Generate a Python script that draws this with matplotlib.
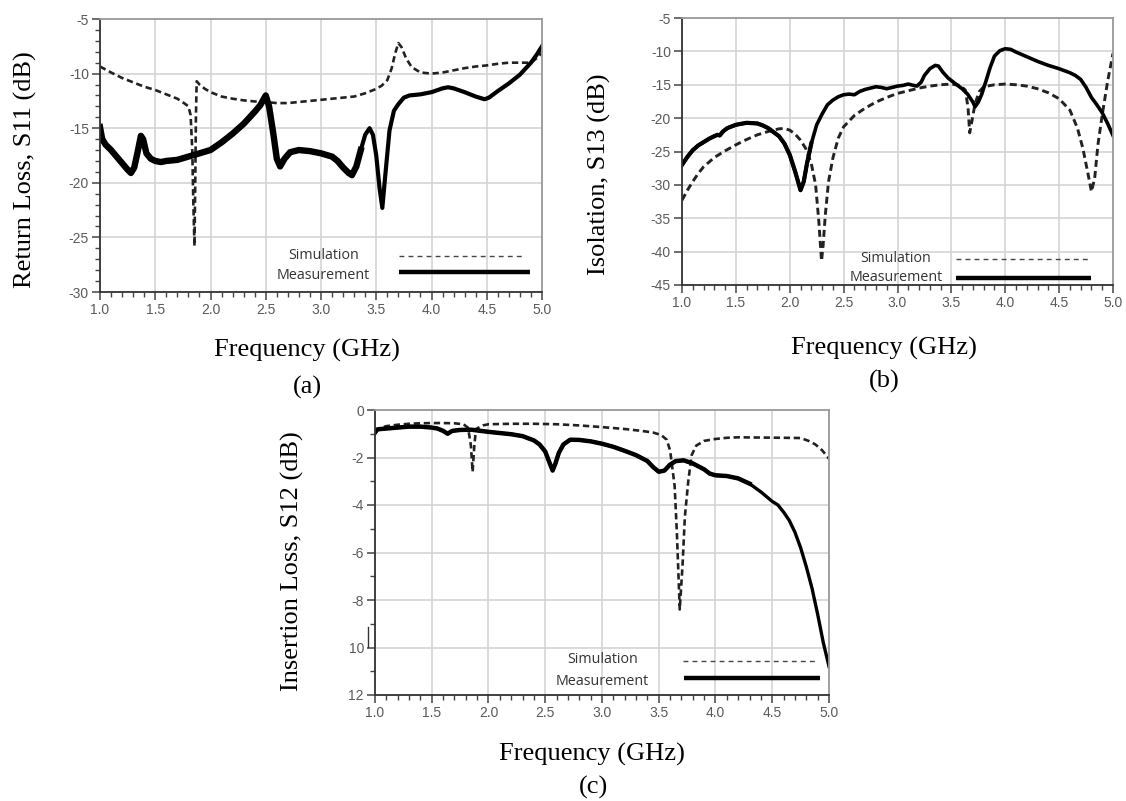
import matplotlib
matplotlib.use('Agg')
import matplotlib.pyplot as plt
from matplotlib.ticker import MultipleLocator, FixedLocator
from matplotlib.lines import Line2D

# ---------------- data ----------------
x_ticks = [1.0, 1.5, 2.0, 2.5, 3.0, 3.5, 4.0, 4.5, 5.0]
x_tick_labels = ['1.0', '1.5', '2.0', '2.5', '3.0', '3.5', '4.0', '4.5', '5.0']

# (a) Return loss S11
a_sim_f = [1.0, 1.1, 1.2, 1.3, 1.4, 1.5, 1.6, 1.7, 1.76, 1.8, 1.82, 1.835, 1.845, 1.855,
           1.862, 1.868, 1.875, 1.9, 1.95, 2.0, 2.1, 2.2, 2.3, 2.4, 2.5, 2.6, 2.7, 2.8, 2.9,
           3.0, 3.1, 3.2, 3.3, 3.4, 3.5, 3.55, 3.6, 3.64, 3.67, 3.7, 3.73, 3.77, 3.82, 3.9,
           4.0, 4.1, 4.2, 4.3, 4.4, 4.5, 4.6, 4.7, 4.8, 4.9, 4.95, 5.0]
a_sim_v = [-9.35, -9.9, -10.4, -10.8, -11.2, -11.5, -11.9, -12.3, -12.7, -13.0, -13.8, -17.0,
           -22.0, -25.8, -20.0, -14.0, -10.7, -11.0, -11.4, -11.7, -12.1, -12.3, -12.45, -12.55,
           -12.6, -12.7, -12.7, -12.6, -12.5, -12.4, -12.3, -12.2, -12.1, -11.8, -11.4, -11.1,
           -10.6, -9.5, -8.2, -7.2, -7.6, -8.6, -9.4, -9.9, -10.0, -9.9, -9.7, -9.5, -9.35,
           -9.25, -9.1, -9.0, -9.0, -9.0, -8.6, -8.1]
a_meas_f = [1.0, 1.02, 1.05, 1.1, 1.15, 1.2, 1.25, 1.28, 1.31, 1.34, 1.37, 1.39, 1.42, 1.46,
            1.5, 1.55, 1.6, 1.7, 1.8, 1.9, 2.0, 2.1, 2.2, 2.3, 2.4, 2.45, 2.5, 2.53, 2.57, 2.6,
            2.63, 2.67, 2.72, 2.8, 2.9, 3.0, 3.1, 3.15, 3.2, 3.25, 3.28, 3.32, 3.36, 3.4, 3.44,
            3.47, 3.5, 3.53, 3.555, 3.58, 3.62, 3.66, 3.7, 3.75, 3.8, 3.9, 4.0, 4.1, 4.15, 4.2,
            4.3, 4.4, 4.48, 4.52, 4.6, 4.7, 4.8, 4.9, 4.95, 5.0]
a_meas_v = [-14.9, -16.0, -16.5, -17.0, -17.6, -18.2, -18.8, -19.1, -18.6, -17.2, -15.7, -16.0,
            -17.3, -17.8, -18.0, -18.1, -18.0, -17.9, -17.6, -17.3, -17.0, -16.3, -15.5, -14.6,
            -13.5, -12.9, -12.0, -13.0, -15.6, -17.8, -18.5, -17.8, -17.2, -17.0, -17.1, -17.3,
            -17.6, -18.0, -18.6, -19.1, -19.3, -18.5, -17.0, -15.6, -15.0, -15.6, -17.5, -20.5,
            -22.3, -19.5, -15.2, -13.4, -12.8, -12.2, -12.0, -11.9, -11.7, -11.35, -11.25, -11.35,
            -11.7, -12.1, -12.35, -12.2, -11.6, -10.9, -10.1, -9.0, -8.3, -7.5]

# (b) Isolation S13
b_sim_f = [1.0, 1.05, 1.1, 1.15, 1.2, 1.3, 1.4, 1.5, 1.6, 1.7, 1.8, 1.9, 1.95, 2.0, 2.05, 2.1,
           2.15, 2.2, 2.24, 2.27, 2.295, 2.31, 2.33, 2.36, 2.4, 2.45, 2.5, 2.6, 2.7, 2.8, 2.9,
           3.0, 3.1, 3.2, 3.3, 3.4, 3.5, 3.58, 3.63, 3.655, 3.67, 3.69, 3.72, 3.76, 3.8, 3.9,
           4.0, 4.1, 4.2, 4.3, 4.4, 4.5, 4.6, 4.67, 4.72, 4.77, 4.8, 4.83, 4.86, 4.9, 4.95, 5.0]
b_sim_v = [-32.3, -30.8, -29.5, -28.3, -27.3, -25.9, -24.9, -24.0, -23.2, -22.5, -22.0, -21.6,
           -21.55, -21.8, -22.4, -23.3, -24.6, -26.8, -30.0, -35.5, -41.4, -39.0, -34.5, -29.5,
           -26.0, -23.0, -21.3, -19.6, -18.5, -17.6, -16.9, -16.3, -15.9, -15.5, -15.2, -15.0,
           -14.9, -15.1, -15.8, -18.5, -22.2, -20.5, -17.8, -16.0, -15.3, -15.0, -14.9, -15.0,
           -15.2, -15.6, -16.2, -17.1, -18.8, -21.5, -24.5, -28.5, -31.0, -29.0, -24.0, -19.5,
           -14.5, -10.3]
b_meas_f = [1.0, 1.05, 1.1, 1.15, 1.2, 1.25, 1.3, 1.33, 1.35, 1.38, 1.42, 1.5, 1.6, 1.7, 1.75,
            1.8, 1.85, 1.9, 1.95, 2.0, 2.05, 2.1, 2.13, 2.16, 2.2, 2.25, 2.3, 2.35, 2.4, 2.45,
            2.5, 2.55, 2.6, 2.65, 2.7, 2.8, 2.85, 2.9, 2.95, 3.0, 3.05, 3.1, 3.15, 3.18, 3.22,
            3.25, 3.3, 3.35, 3.38, 3.42, 3.47, 3.55, 3.6, 3.65, 3.7, 3.72, 3.75, 3.78, 3.82,
            3.86, 3.9, 3.95, 4.0, 4.05, 4.1, 4.2, 4.3, 4.4, 4.5, 4.6, 4.65, 4.7, 4.75, 4.8,
            4.85, 4.9, 4.95, 5.0]
b_meas_v = [-27.0, -25.8, -24.8, -24.1, -23.6, -23.1, -22.7, -22.5, -22.6, -22.0, -21.5, -21.0,
            -20.7, -20.8, -21.1, -21.5, -22.1, -22.7, -23.8, -25.5, -28.0, -30.8, -29.5, -26.8,
            -23.8, -21.0, -19.4, -18.0, -17.3, -16.8, -16.5, -16.4, -16.5, -16.0, -15.7, -15.3,
            -15.4, -15.6, -15.4, -15.2, -15.1, -14.9, -15.1, -15.2, -14.6, -13.6, -12.6, -12.1,
            -12.2, -13.1, -14.0, -15.0, -15.6, -16.4, -17.6, -18.3, -17.6, -16.5, -14.5, -12.4,
            -10.7, -9.9, -9.6, -9.7, -10.1, -10.8, -11.5, -12.1, -12.6, -13.2, -13.6, -14.2,
            -15.4, -16.9, -18.0, -19.2, -20.8, -22.6]

# (c) Insertion loss S12
c_sim_f = [1.0, 1.05, 1.1, 1.2, 1.3, 1.4, 1.5, 1.6, 1.7, 1.78, 1.82, 1.845, 1.86, 1.875, 1.89,
           1.95, 2.0, 2.2, 2.4, 2.6, 2.8, 3.0, 3.2, 3.35, 3.45, 3.52, 3.57, 3.6, 3.64, 3.66,
           3.685, 3.71, 3.73, 3.76, 3.79, 3.83, 3.9, 4.0, 4.1, 4.2, 4.4, 4.6, 4.75, 4.82, 4.88,
           4.94, 5.0]
c_sim_v = [-0.9, -0.75, -0.68, -0.62, -0.58, -0.56, -0.55, -0.55, -0.56, -0.6, -0.75, -1.5,
           -2.6, -1.5, -0.8, -0.65, -0.6, -0.58, -0.58, -0.6, -0.65, -0.72, -0.8, -0.88, -0.95,
           -1.05, -1.25, -1.7, -3.2, -5.2, -8.4, -6.5, -4.5, -3.0, -1.9, -1.5, -1.3, -1.22,
           -1.17, -1.15, -1.16, -1.17, -1.18, -1.3, -1.45, -1.7, -2.05]
c_meas_f = [1.0, 1.02, 1.05, 1.1, 1.2, 1.3, 1.4, 1.5, 1.55, 1.6, 1.64, 1.68, 1.75, 1.85, 1.9,
            2.0, 2.1, 2.2, 2.3, 2.4, 2.45, 2.5, 2.54, 2.565, 2.59, 2.62, 2.66, 2.72, 2.8, 2.9,
            3.0, 3.1, 3.2, 3.3, 3.4, 3.45, 3.5, 3.55, 3.6, 3.65, 3.72, 3.8, 3.9, 3.95, 4.0, 4.1,
            4.2, 4.3, 4.4, 4.45, 4.5, 4.55, 4.6, 4.65, 4.7, 4.75, 4.8, 4.85, 4.9, 4.95, 5.0]
c_meas_v = [-0.95, -0.82, -0.8, -0.78, -0.74, -0.7, -0.7, -0.74, -0.78, -0.88, -1.0, -0.88,
            -0.84, -0.83, -0.86, -0.92, -0.97, -1.02, -1.1, -1.28, -1.45, -1.75, -2.25, -2.55,
            -2.25, -1.8, -1.45, -1.25, -1.26, -1.32, -1.42, -1.55, -1.72, -1.9, -2.15, -2.4,
            -2.6, -2.55, -2.3, -2.15, -2.12, -2.25, -2.5, -2.68, -2.75, -2.78, -2.88, -3.1,
            -3.45, -3.65, -3.85, -4.0, -4.3, -4.65, -5.15, -5.8, -6.6, -7.5, -8.6, -9.8, -10.8]

a_yticks = [-5, -10, -15, -20, -25, -30]
a_ylabels = ['-5', '-10', '-15', '-20', '-25', '-30']
b_yticks = [-5, -10, -15, -20, -25, -30, -35, -40, -45]
b_ylabels = ['-5', '-10', '-15', '-20', '-25', '-30', '-35', '-40', '-45']
c_yticks = [0, -2, -4, -6, -8, -10, -12]
c_ylabels = ['0', '-2', '-4', '-6', '-8', '10', '12']

legend_labels = ['Simulation', 'Measurement']

# ---------------- style ----------------
W, H = 1126, 801
fig = plt.figure(figsize=(W / 100, H / 100), dpi=100)
SERIF = 'Liberation Serif'
TICKF = 'Liberation Sans'
LEGF = 'Open Sans'
DASH = (0, (2.4, 1.4))


def px_axes(l, t, r, b):
    return fig.add_axes([l / W, 1 - b / H, (r - l) / W, (b - t) / H])


def style(ax, ylim, yticks, ylabels, yminor):
    ax.set_xlim(1.0, 5.0)
    ax.set_ylim(*ylim)
    ax.xaxis.set_major_locator(FixedLocator(x_ticks))
    ax.set_xticklabels(x_tick_labels)
    ax.xaxis.set_minor_locator(MultipleLocator(0.1))
    ax.yaxis.set_major_locator(FixedLocator(yticks))
    ax.set_yticklabels(ylabels)
    if yminor:
        ax.yaxis.set_minor_locator(MultipleLocator(yminor))
    ax.grid(True, which='major', color='#d4d4d4', lw=1.2)
    ax.set_axisbelow(True)
    ax.tick_params(which='major', direction='out', length=6, width=1.1, color='#444',
                   pad=2, labelsize=10, labelcolor='#5a5a5a')
    ax.tick_params(which='minor', direction='out', length=3.5, width=1.0, color='#444')
    for s in ['left', 'bottom']:
        ax.spines[s].set_color('#333333')
        ax.spines[s].set_linewidth(1.3)
    for s in ['top', 'right']:
        ax.spines[s].set_color('#9a9a9a')
        ax.spines[s].set_linewidth(1.3)
    for lab in ax.get_xticklabels() + ax.get_yticklabels():
        lab.set_fontfamily(TICKF)


def legend(ax, tx, ty_sim, ty_meas, dseg, dy, sseg, sy):
    ax.text(tx, ty_sim, legend_labels[0], transform=ax.transAxes, ha='center', va='center',
            fontsize=10.3, family=LEGF, color='#333333')
    ax.text(tx, ty_meas, legend_labels[1], transform=ax.transAxes, ha='center', va='center',
            fontsize=10.3, family=LEGF, color='#333333')
    ax.add_line(Line2D(dseg, [dy, dy], transform=ax.transAxes, color='#444444', lw=1.0,
                       linestyle=(0, (3.5, 3)), clip_on=False))
    ax.add_line(Line2D(sseg, [sy, sy], transform=ax.transAxes, color='black', lw=3.2,
                       solid_capstyle='butt', clip_on=False))


def plot_meas(ax, f, v, f_noisy, lw_noisy, lw):
    ax.plot(f, v, color='black', lw=lw, solid_joinstyle='round')
    n = sum(1 for x in f if x <= f_noisy)
    ax.plot(f[:n], v[:n], color='black', lw=lw_noisy, solid_joinstyle='round')


# (a)
axa = px_axes(100, 19, 542, 292)
axa.plot(a_sim_f, a_sim_v, color='#222222', lw=1.9, linestyle=DASH)
plot_meas(axa, a_meas_f, a_meas_v, 3.36, 4.6, 3.0)
style(axa, (-30, -5), a_yticks, a_ylabels, 1)
legend(axa, 0.506, 0.135, 0.061, [0.676, 0.958], 0.132, [0.676, 0.972], 0.073)

# (b)
axb = px_axes(682, 18, 1113, 285)
axb.plot(b_sim_f, b_sim_v, color='#222222', lw=2.1, linestyle=DASH)
plot_meas(axb, b_meas_f, b_meas_v, 2.2, 3.0, 2.6)
style(axb, (-45, -5), b_yticks, b_ylabels, None)
legend(axb, 0.496, 0.10, 0.028, [0.636, 0.946], 0.097, [0.636, 0.948], 0.027)

# (c)
axc = px_axes(375, 410, 829, 695)
axc.plot(c_sim_f, c_sim_v, color='#222222', lw=1.9, linestyle=DASH)
plot_meas(axc, c_meas_f, c_meas_v, 4.3, 3.2, 2.4)
style(axc, (-12, 0), c_yticks, c_ylabels, 1)
legend(axc, 0.501, 0.123, 0.047, [0.678, 0.970], 0.120, [0.680, 0.980], 0.058)

# stray mark next to the "10" label
fig.add_artist(Line2D([368 / W, 368 / W], [1 - 627 / H, 1 - 647 / H], color='#333333', lw=1.0))


def ftext(x, y, s, rot=0, size=19):
    fig.text(x / W, 1 - y / H, s, ha='center', va='center', rotation=rot,
             fontsize=size, family=SERIF, color='black')


ftext(25, 170, 'Return Loss, S11 (dB)', rot=90)
ftext(307, 350, 'Frequency (GHz)')
ftext(307, 387, '(a)')
ftext(599, 174, 'Isolation, S13 (dB)', rot=90)
ftext(884, 348, 'Frequency (GHz)')
ftext(884, 381, '(b)')
ftext(292, 561, 'Insertion Loss, S12 (dB)', rot=90)
ftext(592, 754, 'Frequency (GHz)')
ftext(593, 787, '(c)')

fig.savefig('out.png', dpi=100)
